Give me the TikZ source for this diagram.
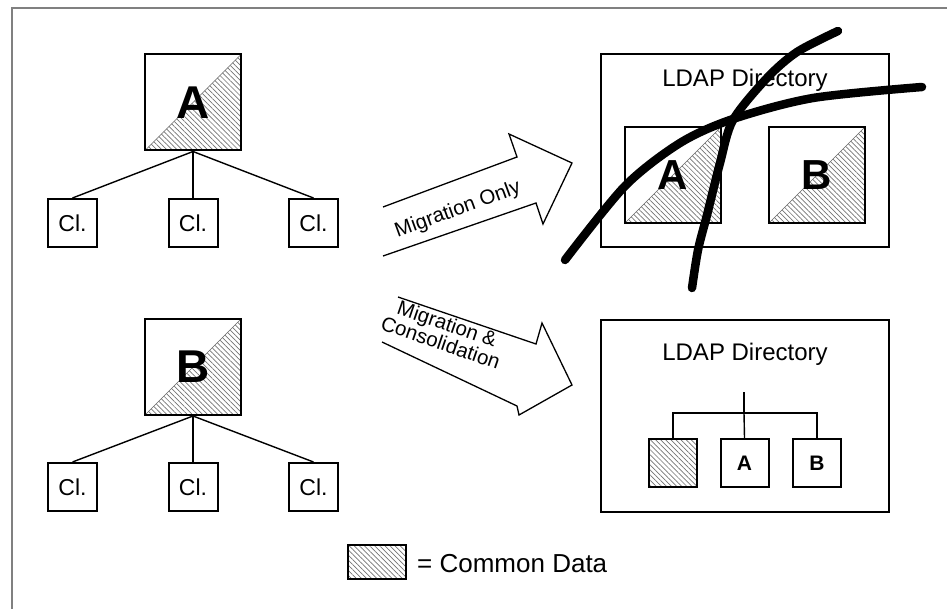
\documentclass[tikz,border=0pt]{standalone}
\usepackage{fontspec}
\setmainfont{Liberation Sans}
\usetikzlibrary{patterns,patterns.meta}
\begin{document}
\begin{tikzpicture}[x=1pt,y=-1pt,
  hatchfill/.style={pattern={Lines[angle=-45, distance=3.6pt, line width=0.7pt]}, pattern color=black!55},
  halfhatch/.style={path picture={
    \fill[hatchfill] (path picture bounding box.south west) -- (path picture bounding box.south east) -- (path picture bounding box.north east) -- cycle;
    \draw[line width=0.6pt, black!60] (path picture bounding box.south west) -- (path picture bounding box.north east);}},
  fullhatch/.style={path picture={
    \fill[hatchfill] (path picture bounding box.south west) rectangle (path picture bounding box.north east);}},
  sq/.style={draw, line width=2pt, inner sep=0pt, minimum width=#1, minimum height=#1},
  bigbox/.style={sq=96pt, halfhatch, font=\bfseries\fontsize{46}{46}\selectfont},
  inbox/.style={sq=96pt, halfhatch, font=\bfseries\fontsize{42}{42}\selectfont},
  clbox/.style={draw, line width=2pt, inner sep=0pt, minimum width=49pt, minimum height=48pt, font=\fontsize{23}{23}\selectfont},
  smallbox/.style={sq=48pt, font=\bfseries\fontsize{21}{21}\selectfont},
  ldap/.style={draw, line width=2pt, inner sep=0pt, minimum width=288pt, minimum height=#1},
  ldaptext/.style={anchor=base, font=\fontsize{24}{24}\selectfont},
  tree/.style={line width=1.4pt},
  blockarrow/.style={line width=1.3pt, line join=miter},
  arrowtext/.style={font=\fontsize{20.5}{20}\selectfont, align=center, inner sep=0pt},
  cross/.style={line width=8.5pt, line cap=round}
]
\useasboundingbox (0,0) rectangle (947,609);
% frame
\draw[gray, line width=2pt] (12,609) -- (12,8) -- (947,8);

% left trees
\node[bigbox] (A) at (193,102.5) {A};
\node[clbox] (a1) at (72.5,223) {Cl.};
\node[clbox] (a2) at (193,223) {Cl.};
\node[clbox] (a3) at (313.5,223) {Cl.};
\draw[tree] (A.south) -- (a1.north);
\draw[tree] (A.south) -- (a2.north);
\draw[tree] (A.south) -- (a3.north);

\node[bigbox] (B) at (193,367) {B};
\node[clbox] (b1) at (72.5,487) {Cl.};
\node[clbox] (b2) at (193,487) {Cl.};
\node[clbox] (b3) at (313.5,487) {Cl.};
\draw[tree] (B.south) -- (b1.north);
\draw[tree] (B.south) -- (b2.north);
\draw[tree] (B.south) -- (b3.north);

% arrows
\draw[blockarrow] (383,207) -- (517,157) -- (509,134) -- (572,163) -- (543,224) -- (536,203) -- (383,256);
\node[arrowtext, rotate=20] (t1) at (458,210) {Migration Only};
\draw[blockarrow] (398,297) -- (536,344) -- (542,323) -- (572,385) -- (519,415) -- (517,406) -- (382,342);
\node[arrowtext, rotate=-19] (t2) at (444,333) {Migration \&\\Consolidation};

% top LDAP
\node[ldap=193pt] (L1) at (745,150.5) {};
\node[ldaptext] (L1t) at (745,87) {LDAP Directory};
\node[inbox] (LA) at (673,175) {A};
\node[inbox] (LB) at (817,175) {B};

% crossing strokes
\draw[cross] plot[smooth] coordinates {(565,260) (625,186) (680,143) (733,119) (813,98) (922,87)};
\draw[cross] plot[smooth] coordinates {(692,288) (698,250) (707,215) (720,163) (733,120) (767,78) (797,52) (838,31)};

% bottom LDAP
\node[ldap=192pt] (L2) at (745,416) {};
\node[ldaptext] (L2t) at (745,360) {LDAP Directory};
\node[sq=48pt, fullhatch] (c1) at (673,463) {};
\node[smallbox] (c2) at (744.5,463) {A};
\node[smallbox] (c3) at (817,463) {B};
\coordinate (root) at (744,392);
\coordinate (bar) at (744,413);
\draw[tree] (root) -- (bar);
\draw[tree] (bar) -| (c1.north);
\draw[tree] (bar) -- (c2.north);
\draw[tree] (bar) -| (c3.north);

% legend
\node[draw, line width=2pt, inner sep=0pt, minimum width=58pt, minimum height=34pt, fullhatch] (leg) at (377,562) {};
\node[anchor=base west, inner sep=0pt, font=\fontsize{26}{26}\selectfont] (legt) at (417,572) {= Common Data};
\end{tikzpicture}
\end{document}
